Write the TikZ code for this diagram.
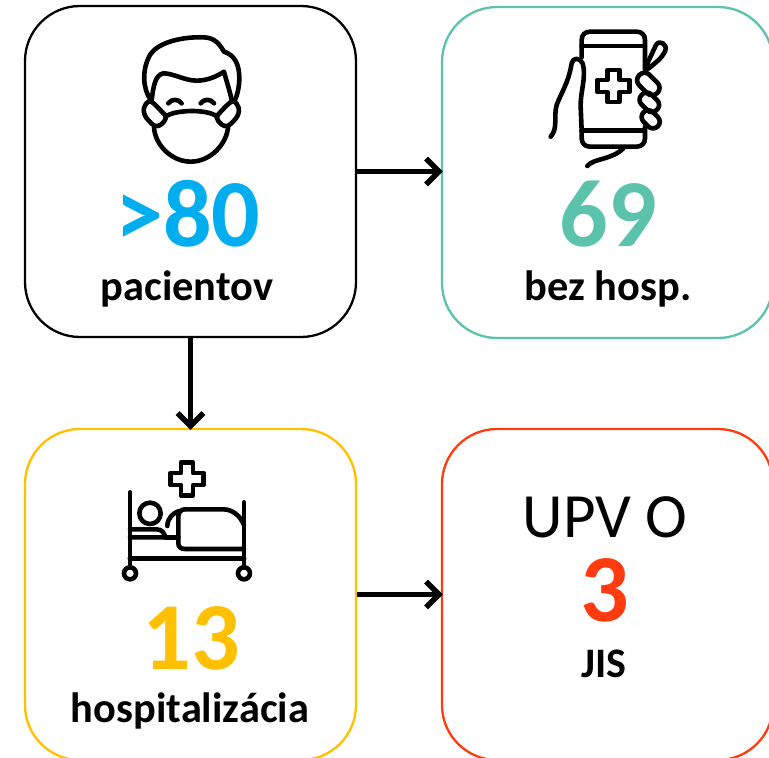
\documentclass[tikz,border=0pt]{standalone}
\usepackage{fontspec}
\setmainfont{Carlito}
\usetikzlibrary{arrows.meta}
\definecolor{cblue}{HTML}{00ADEF}
\definecolor{cteal}{HTML}{5BC2AC}
\definecolor{cyel}{HTML}{FFC000}
\definecolor{cred}{HTML}{FF3B0F}
\tikzset{
  card/.style={draw=#1,line width=2.3pt,rounded corners=55pt,minimum width=331pt,minimum height=331pt,inner sep=0pt,fill=white},
  flow/.style={line width=5pt,shorten >=-2pt,-{Straight Barb[length=13pt,width=26pt,line width=5.4pt]}},
  bignum/.style={anchor=base,font=\fontsize{96}{96}\selectfont\bfseries,text=#1,inner sep=0pt},
  sublabel/.style={anchor=base,font=\fontsize{42.4}{42.4}\selectfont\bfseries,inner sep=0pt},
  icon/.style={line width=4.6pt,line cap=round,line join=round},
  zoomed/.style={x=0.3333pt,y=-0.3333pt}
}
\begin{document}
\begin{tikzpicture}[x=1pt,y=-1pt]
\useasboundingbox (0,0) rectangle (769,758);
\clip (0,0) rectangle (769,758);
\node[card=black] (a) at (190.5,171.5) {};
\node[card=cteal] (b) at (607.5,172.5) {};
\node[card=cyel] (c) at (190.5,594.5) {};
\node[card=cred] (d) at (607.5,594.5) {};
\draw[flow] (a.east) -- (a.east -| b.west);
\draw[flow] (a.south) -- (c.north);
\draw[flow] (c.east) -- (c.east -| d.west);
\node[bignum=cblue] (t1) at (188,246) {>80};
\node[sublabel] (t2) at (187,300) {pacientov};
\node[bignum=cteal] (t3) at (608,246) {69};
\node[sublabel] (t4) at (608,300) {bez hosp.};
\node[bignum=cyel] (t5) at (191,669) {13};
\node[sublabel] (t6) at (190,722) {hospitalizácia};
\node[anchor=base,font=\fontsize{63}{63}\selectfont,inner sep=0pt] (t7) at (605,537) {UPV O};
\node[bignum=cred] (t8) at (605,621) {3};
\node[anchor=base,font=\fontsize{42}{42}\selectfont\bfseries,inner sep=0pt] (t9) at (604,677) {JIS};
% mask icon
\begin{scope}[shift={(100,20)},zoomed,icon]
\draw (152,240) .. controls (128,205) and (125,150) .. (150,105) .. controls (175,65) and (250,50) .. (310,52) .. controls (345,52) and (360,75) .. (372,95) .. controls (405,105) and (418,135) .. (418,175) .. controls (418,200) and (412,225) .. (405,240);
\draw (155,240) .. controls (160,200) and (165,165) .. (190,160) .. controls (220,160) and (255,182) .. (290,182) .. controls (320,182) and (350,170) .. (372,155) .. controls (380,185) and (390,215) .. (395,240);
\draw (150,243) .. controls (130,250) and (125,275) .. (140,295) .. controls (150,305) and (160,322) .. (175,318) .. controls (185,315) and (205,295) .. (195,285) .. controls (180,270) and (165,250) .. (150,243) -- cycle;
\draw (398,243) .. controls (418,250) and (423,275) .. (408,295) .. controls (398,305) and (388,322) .. (373,318) .. controls (363,315) and (343,295) .. (353,285) .. controls (368,270) and (383,250) .. (398,243) -- cycle;
\draw (197,290) .. controls (220,270) and (320,265) .. (352,290);
\draw (162,322) .. controls (165,375) and (215,425) .. (272,425) .. controls (330,425) and (380,375) .. (385,318);
\draw (205,250) .. controls (215,236) and (235,236) .. (245,250);
\draw (302,250) .. controls (312,236) and (332,236) .. (342,250);
\end{scope}
% phone icon
\begin{scope}[shift={(530,20)},zoomed,icon]
\draw (155,112) -- (155,60) .. controls (155,45) and (165,35) .. (180,35) -- (320,35) .. controls (335,35) and (345,45) .. (345,60) -- (345,150);
\draw (155,78) -- (345,78);
\draw (155,332) -- (340,332);
\draw (345,320) -- (345,355) .. controls (345,370) and (335,380) .. (320,380) -- (180,380) .. controls (165,380) and (155,370) .. (155,355) -- (155,332);
\draw (62,350) .. controls (85,325) and (70,290) .. (80,255) .. controls (95,215) and (115,190) .. (125,130) .. controls (128,112) and (150,112) .. (158,130) .. controls (170,170) and (150,220) .. (152,260) -- (155,332);
\draw (172,438) .. controls (190,415) and (245,420) .. (280,385);
\draw (232,150) -- (268,150) -- (268,180) -- (298,180) -- (298,216) -- (268,216) -- (268,246) -- (232,246) -- (232,216) -- (202,216) -- (202,180) -- (232,180) -- cycle;
\draw (350,135) -- (378,75) .. controls (388,58) and (415,72) .. (405,95) .. controls (395,115) and (375,130) .. (352,148);
\draw[rotate around={-45:(355,192)},rounded corners=7pt] (317,170) rectangle (393,214);
\draw[rotate around={-45:(358,247)},rounded corners=6.5pt] (326,226) rectangle (390,268);
\draw[rotate around={-45:(362,298)},rounded corners=6.5pt] (332,278) rectangle (392,318);
\end{scope}
% bed icon
\begin{scope}[shift={(110,450)},zoomed,icon]
\draw (231,87) ++(-18,-50) -- ++(36,0) -- ++(0,32) -- ++(32,0) -- ++(0,36) -- ++(-32,0) -- ++(0,32) -- ++(-36,0) -- ++(0,-32) -- ++(-32,0) -- ++(0,-36) -- ++(32,0) -- cycle;
\draw (60,127) -- (60,350);
\draw (402,157) -- (402,350);
\draw[line width=5pt] (60,325) -- (402,325);
\draw (60,370) circle [radius=18pt*0.3333];
\draw (402,370) circle [radius=18pt*0.3333];
\draw (120,190) circle [radius=32pt*0.3333];
\draw (60,238) -- (140,238) .. controls (155,238) and (165,250) .. (165,262) -- (60,262);
\draw (165,262) -- (205,262);
\draw (172,228) .. controls (172,205) and (190,188) .. (207,183);
\draw (402,225) .. controls (390,195) and (365,178) .. (340,178) -- (225,178) .. controls (212,178) and (205,188) .. (205,200) -- (205,280) .. controls (205,290) and (212,297) .. (225,297) -- (402,297);
\end{scope}
\end{tikzpicture}
\end{document}
